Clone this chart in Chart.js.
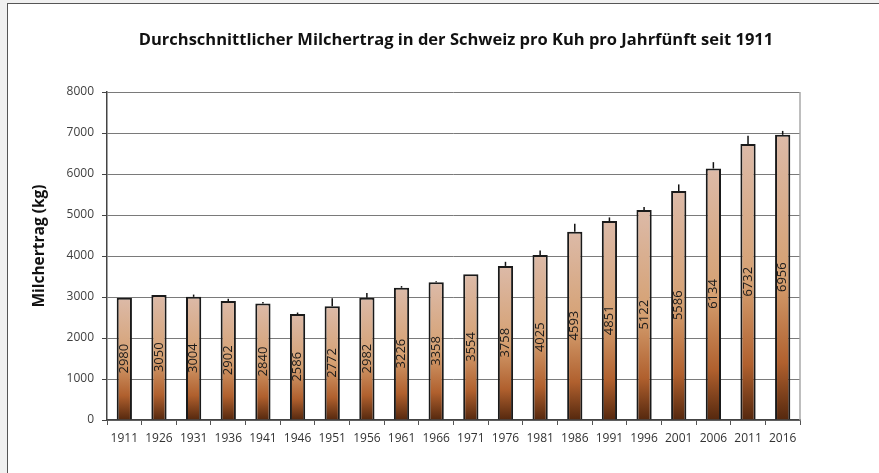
<!DOCTYPE html>
<html>
<head>
<meta charset="utf-8">
<script src="https://cdn.jsdelivr.net/npm/chart.js@4/dist/chart.umd.min.js"></script>
<style>
    html, body { margin: 0; padding: 0; background: #f0f0f0; overflow: hidden; }
    #frame { position: absolute; left: 7px; top: 3px; width: 880px; height: 480px; background: #fff; border-left: 1px solid #555; border-top: 1px solid #555; }
    #myChart { position: absolute; left: 0; top: 0; }
</style>
</head>
<body>
<div id="frame"></div>
<canvas id="myChart" width="879" height="473"></canvas>
<script>
// Jahrfünft (start year)
const years = ['1911', '1926', '1931', '1936', '1941', '1946', '1951', '1956', '1961', '1966',
               '1971', '1976', '1981', '1986', '1991', '1996', '2001', '2006', '2011', '2016'];

// average milk yield per cow (kg)
const milkYield = [2980, 3050, 3004, 2902, 2840, 2586, 2772, 2982, 3226, 3358,
                   3554, 3758, 4025, 4593, 4851, 5122, 5586, 6134, 6732, 6956];

// upper error (kg), read from the whiskers
const yieldError = [0, 0, 55, 55, 40, 35, 195, 115, 40, 25,
                    0, 100, 110, 195, 90, 75, 160, 155, 200, 95];

const yTicks = [0, 1000, 2000, 3000, 4000, 5000, 6000, 7000, 8000];

const chartTitle = 'Durchschnittlicher Milchertrag in der Schweiz pro Kuh pro Jahrfünft seit 1911';
const yTitle = 'Milchertrag (kg)';

const fontFamily = "'Open Sans', sans-serif";

// each bar gets its own vertical gradient (light top, dark brown base)
function barFill(context) {
    const chart = context.chart;
    const yScale = chart.scales.y;
    if (!yScale || !context.parsed) {
        return '#d49c6a';
    }
    const top = yScale.getPixelForValue(context.parsed.y);
    const base = yScale.getPixelForValue(0);
    if (!isFinite(top) || !isFinite(base) || top === base) {
        return '#d49c6a';
    }
    const g = chart.ctx.createLinearGradient(0, top, 0, base);
    g.addColorStop(0, '#dcbaa8');
    g.addColorStop(0.5, '#d5a071');
    g.addColorStop(0.8, '#b0602e');
    g.addColorStop(1, '#55280e');
    return g;
}

// whiskers, rotated value labels, titles and right frame line
const barExtras = {
    id: 'barExtras',
    afterDatasetsDraw(chart) {
        const ctx = chart.ctx;
        const yScale = chart.scales.y;
        chart.getDatasetMeta(0).data.forEach((bar, i) => {
            if (yieldError[i] > 0) {
                ctx.save();
                ctx.strokeStyle = '#111';
                ctx.lineWidth = 1.5;
                ctx.beginPath();
                ctx.moveTo(bar.x, yScale.getPixelForValue(milkYield[i]));
                ctx.lineTo(bar.x, yScale.getPixelForValue(milkYield[i] + yieldError[i]));
                ctx.stroke();
                ctx.restore();
            }
            ctx.save();
            ctx.translate(bar.x, (bar.y + bar.base) / 2);
            ctx.rotate(-Math.PI / 2);
            ctx.font = '13px ' + fontFamily;
            ctx.fillStyle = '#1a1a1a';
            ctx.textAlign = 'center';
            ctx.textBaseline = 'middle';
            ctx.fillText(String(milkYield[i]), 0, 0);
            ctx.restore();
        });
    },
    afterDraw(chart) {
        const { ctx, chartArea } = chart;
        ctx.save();
        ctx.strokeStyle = '#a8a8a8';
        ctx.lineWidth = 1.5;
        ctx.beginPath();
        ctx.moveTo(chartArea.right, chartArea.top);
        ctx.lineTo(chartArea.right, chartArea.bottom);
        ctx.stroke();

        // chart title (the original is centred on a wider panel)
        ctx.fillStyle = '#111';
        ctx.textAlign = 'center';
        ctx.textBaseline = 'middle';
        ctx.font = 'bold 16.5px ' + fontFamily;
        ctx.fillText(chartTitle, 456, 40);

        // y axis title
        ctx.translate(40, 246);
        ctx.rotate(-Math.PI / 2);
        ctx.font = 'bold 15.5px ' + fontFamily;
        ctx.fillText(yTitle, 0, 0);
        ctx.restore();
    }
};

const ctx = document.getElementById('myChart').getContext('2d');
const chart = new Chart(ctx, {
    type: 'bar',
    data: {
        labels: years,
        datasets: [{
            label: 'Milchertrag',
            data: milkYield,
            backgroundColor: barFill,
            borderColor: '#1a1a1a',
            borderWidth: 2,
            borderSkipped: 'bottom',
            categoryPercentage: 1.0,
            barPercentage: 0.44
        }]
    },
    options: {
        responsive: false,
        animation: false,
        layout: {
            padding: { left: 20, right: 79, top: 92, bottom: 0 }
        },
        plugins: {
            legend: { display: false },
            tooltip: { enabled: false },
            title: { display: false }
        },
        scales: {
            x: {
                grid: {
                    drawOnChartArea: false,
                    drawTicks: true,
                    tickLength: 5,
                    color: '#555',
                    offset: true
                },
                border: { display: true, color: '#444', width: 1.5 },
                ticks: {
                    color: '#333',
                    padding: 6,
                    maxRotation: 0,
                    autoSkip: false,
                    font: { family: fontFamily, size: 12 }
                },
                afterFit(scale) { scale.height = 53; }
            },
            y: {
                min: 0,
                max: 8000,
                afterBuildTicks(scale) { scale.ticks = yTicks.map(v => ({ value: v })); },
                grid: {
                    color: '#7a7a7a',
                    lineWidth: 1,
                    drawTicks: true,
                    tickLength: 5,
                    tickColor: '#444'
                },
                border: { display: true, color: '#444', width: 1.5 },
                ticks: {
                    color: '#404040',
                    padding: 8,
                    font: { family: fontFamily, size: 12 },
                    callback: value => String(value)
                },
                afterFit(scale) { scale.width = 87; }
            }
        }
    },
    plugins: [barExtras]
});
</script>
</body>
</html>
